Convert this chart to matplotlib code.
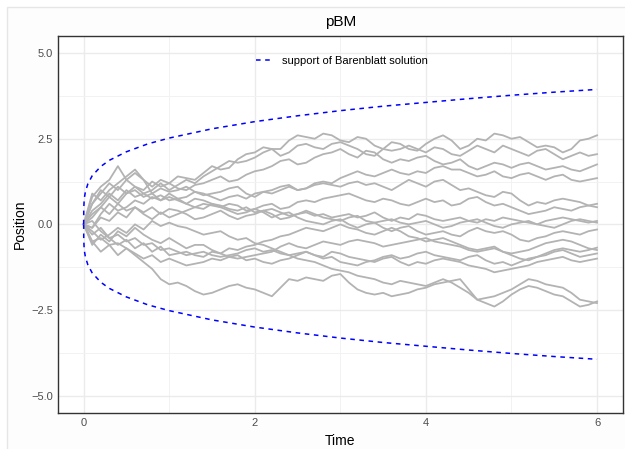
import matplotlib
matplotlib.use("Agg")
import matplotlib.pyplot as plt
from matplotlib.patches import Rectangle

plt.rcParams['font.family'] = ['Liberation Sans', 'DejaVu Sans']

# sampling times of the paths (every 0.1)
times = [0.0, 0.1, 0.2, 0.3, 0.4, 0.5, 0.6, 0.7, 0.8, 0.9,
         1.0, 1.1, 1.2, 1.3, 1.4, 1.5, 1.6, 1.7, 1.8, 1.9,
         2.0, 2.1, 2.2, 2.3, 2.4, 2.5, 2.6, 2.7, 2.8, 2.9,
         3.0, 3.1, 3.2, 3.3, 3.4, 3.5, 3.6, 3.7, 3.8, 3.9,
         4.0, 4.1, 4.2, 4.3, 4.4, 4.5, 4.6, 4.7, 4.8, 4.9,
         5.0, 5.1, 5.2, 5.3, 5.4, 5.5, 5.6, 5.7, 5.8, 5.9,
         6.0]

# positions of each path
p1 = [0, 0.6, 0.9, 1.2, 1.0, 1.3, 1.1, 1.0, 1.25, 1.1,
      1.2, 1.4, 1.35, 1.3, 1.5, 1.7, 1.6, 1.65, 1.9, 2.05,
      2.1, 2.25, 2.2, 2.2, 2.45, 2.6, 2.55, 2.5, 2.65, 2.6,
      2.45, 2.4, 2.55, 2.5, 2.3, 2.2, 2.4, 2.35, 2.2, 2.15,
      2.35, 2.5, 2.6, 2.45, 2.2, 2.3, 2.5, 2.45, 2.65, 2.6,
      2.5, 2.55, 2.4, 2.25, 2.3, 2.25, 2.1, 2.2, 2.45, 2.5,
      2.6]
p2 = [0, 0.3, 0.5, 0.8, 0.6, 0.9, 1.1, 0.9, 1.0, 1.2,
      1.0, 1.15, 1.3, 1.2, 1.4, 1.55, 1.7, 1.85, 1.8, 1.85,
      1.95, 2.1, 2.2, 2.0, 2.1, 2.3, 2.35, 2.25, 2.2, 2.35,
      2.4, 2.3, 2.2, 2.05, 2.0, 2.2, 2.15, 2.2, 2.3, 2.2,
      2.1, 2.25, 2.2, 2.05, 2.0, 2.15, 2.3, 2.2, 2.1, 2.3,
      2.2, 2.1, 2.0, 2.15, 2.2, 2.05, 1.9, 2.0, 2.1, 2.0,
      2.05]
p3 = [0, 0.8, 1.1, 1.3, 1.7, 1.3, 1.5, 1.3, 1.1, 1.3,
      1.2, 1.05, 1.0, 1.15, 1.2, 1.3, 1.4, 1.25, 1.3, 1.45,
      1.55, 1.6, 1.7, 1.85, 1.9, 1.75, 1.8, 1.95, 2.05, 2.1,
      2.2, 2.05, 1.95, 2.15, 2.1, 1.9, 1.8, 1.9, 1.85, 1.95,
      2.0, 1.85, 1.75, 1.8, 1.9, 1.7, 1.6, 1.7, 1.8, 1.75,
      1.65, 1.75, 1.8, 1.7, 1.6, 1.65, 1.7, 1.6, 1.55, 1.65,
      1.75]
p4 = [0, -0.1, 0.3, 0.6, 0.4, 0.5, 0.7, 0.6, 0.8, 0.7,
      0.9, 0.75, 0.8, 0.95, 0.9, 0.8, 0.7, 0.8, 0.85, 0.75,
      0.9, 0.95, 1.0, 1.1, 1.15, 1.0, 1.05, 1.2, 1.25, 1.2,
      1.35, 1.45, 1.55, 1.45, 1.4, 1.5, 1.6, 1.5, 1.45, 1.55,
      1.5, 1.65, 1.7, 1.6, 1.6, 1.5, 1.4, 1.45, 1.55, 1.4,
      1.35, 1.45, 1.5, 1.4, 1.3, 1.4, 1.45, 1.3, 1.25, 1.3,
      1.35]
p5 = [0, 0.9, 0.7, 1.0, 1.2, 1.4, 1.6, 1.3, 0.9, 1.05,
      0.95, 1.0, 1.1, 0.95, 0.85, 0.9, 0.95, 1.05, 1.1, 0.9,
      0.8, 0.95, 0.9, 1.0, 1.1, 1.0, 1.05, 1.15, 1.2, 1.15,
      1.1, 1.2, 1.25, 1.15, 1.2, 1.1, 1.0, 1.15, 1.3, 1.2,
      1.1, 1.25, 1.3, 1.15, 1.0, 1.05, 0.95, 0.85, 0.8, 0.95,
      0.9, 0.7, 0.55, 0.65, 0.6, 0.7, 0.75, 0.7, 0.65, 0.55,
      0.6]
p6 = [0, 0.6, 1.0, 0.8, 1.1, 0.9, 1.0, 0.8, 0.9, 0.7,
      0.8, 0.7, 0.6, 0.75, 0.7, 0.6, 0.5, 0.6, 0.55, 0.4,
      0.45, 0.55, 0.6, 0.45, 0.5, 0.65, 0.7, 0.65, 0.75, 0.8,
      0.85, 0.9, 0.8, 0.7, 0.65, 0.75, 0.7, 0.6, 0.55, 0.65,
      0.75, 0.65, 0.7, 0.55, 0.6, 0.75, 0.8, 0.65, 0.55, 0.6,
      0.5, 0.4, 0.3, 0.35, 0.4, 0.5, 0.45, 0.4, 0.5, 0.55,
      0.5]
p7 = [0, 0.4, 0.6, 0.9, 0.7, 1.0, 0.8, 0.9, 0.75, 0.85,
      0.7, 0.75, 0.6, 0.5, 0.45, 0.6, 0.55, 0.45, 0.4, 0.5,
      0.35, 0.4, 0.3, 0.15, 0.2, 0.3, 0.35, 0.25, 0.3, 0.2,
      0.25, 0.3, 0.2, 0.25, 0.35, 0.2, 0.1, 0.2, 0.15, 0.3,
      0.25, 0.15, 0.1, 0.15, 0.2, 0.1, 0.05, 0.15, 0.1, 0.2,
      0.15, 0.1, 0.05, 0.0, 0.1, 0.15, 0.2, 0.15, 0.1, 0.05,
      0.1]
p8 = [0, 0.2, 0.5, 0.3, 0.6, 0.4, 0.5, 0.35, 0.5, 0.3,
      0.45, 0.4, 0.3, 0.15, 0.2, 0.3, 0.4, 0.25, 0.15, 0.25,
      0.3, 0.4, 0.45, 0.35, 0.25, 0.3, 0.4, 0.3, 0.2, 0.15,
      0.1, 0.2, 0.25, 0.1, 0.05, 0.1, 0.15, 0.05, 0.0, 0.05,
      0.1, 0.0, -0.1, -0.05, 0.05, 0.1, 0.15, 0.05, -0.05, -0.1,
      0.0, 0.05, 0.1, 0.0, -0.05, -0.1, 0.0, 0.1, 0.15, 0.1,
      0.05]
p9 = [0, -0.1, 0.2, 0.1, 0.35, 0.2, 0.5, 0.3, 0.15, 0.35,
      0.2, 0.3, 0.4, 0.5, 0.6, 0.55, 0.5, 0.4, 0.3, 0.35,
      0.45, 0.35, 0.2, 0.3, 0.35, 0.2, 0.1, 0.05, 0.0, 0.1,
      0.15, 0.0, -0.1, 0.0, 0.05, -0.1, -0.2, -0.1, -0.05, -0.2,
      -0.3, -0.25, -0.2, -0.3, -0.35, -0.2, -0.1, -0.2, -0.25, -0.2,
      -0.3, -0.45, -0.5, -0.4, -0.35, -0.25, -0.2, -0.25, -0.3, -0.2,
      -0.15]
p10 = [0, -0.6, -0.3, -0.5, -0.2, -0.35, -0.1, -0.3, -0.45, -0.55,
       -0.4, -0.55, -0.7, -0.6, -0.6, -0.75, -0.85, -0.7, -0.75, -0.65,
       -0.6, -0.5, -0.45, -0.35, -0.3, -0.2, -0.1, -0.15, -0.2, -0.1,
       0.0, -0.1, -0.15, -0.25, -0.3, -0.2, -0.1, -0.2, -0.35, -0.4,
       -0.5, -0.45, -0.4, -0.5, -0.6, -0.7, -0.75, -0.7, -0.65, -0.8,
       -0.9, -1.0, -1.05, -0.95, -0.85, -0.75, -0.7, -0.75, -0.8, -0.75,
       -0.68]
p11 = [0, -0.3, -0.1, -0.4, -0.6, -0.45, -0.7, -0.55, -0.8, -0.65,
       -0.9, -0.85, -0.8, -0.9, -0.95, -0.8, -0.85, -0.95, -1.0, -0.95,
       -0.9, -0.85, -0.8, -0.65, -0.55, -0.65, -0.7, -0.6, -0.5, -0.55,
       -0.6, -0.5, -0.45, -0.5, -0.55, -0.65, -0.6, -0.55, -0.5, -0.45,
       -0.4, -0.5, -0.55, -0.6, -0.65, -0.75, -0.8, -0.75, -0.7, -0.8,
       -0.85, -0.8, -0.75, -0.65, -0.55, -0.5, -0.45, -0.5, -0.6, -0.7,
       -0.75]
p12 = [0, -0.5, -0.8, -0.6, -0.9, -0.7, -0.85, -1.0, -0.9, -1.1,
       -1.0, -1.1, -1.2, -1.15, -1.1, -1.0, -1.05, -0.95, -0.9, -1.05,
       -1.0, -1.1, -1.15, -1.05, -1.0, -0.9, -0.8, -0.9, -0.95, -0.8,
       -0.85, -0.95, -1.0, -1.05, -1.1, -1.0, -0.95, -1.1, -1.2, -1.1,
       -1.15, -1.05, -1.0, -1.05, -1.1, -1.2, -1.25, -1.3, -1.4, -1.35,
       -1.3, -1.25, -1.2, -1.1, -1.05, -1.0, -0.95, -1.05, -1.1, -1.05,
       -1.0]
p13 = [0, -0.2, -0.45, -0.3, -0.1, -0.25, 0.0, -0.15, 0.1, -0.05,
       0.05, -0.05, -0.1, -0.2, -0.3, -0.25, -0.2, -0.35, -0.45, -0.4,
       -0.55, -0.6, -0.7, -0.8, -0.9, -0.85, -0.8, -0.9, -1.0, -0.95,
       -1.1, -1.15, -1.2, -1.1, -1.05, -0.95, -0.9, -1.0, -0.95, -0.85,
       -0.8, -0.9, -0.95, -1.0, -1.05, -0.95, -0.9, -1.05, -1.15, -1.1,
       -1.2, -1.1, -1.0, -0.95, -0.9, -0.8, -0.75, -0.85, -0.95, -0.9,
       -0.85]
p14 = [0, -0.5, -0.4, -0.6, -0.55, -0.7, -0.9, -1.1, -1.3, -1.6,
       -1.75, -1.7, -1.8, -1.95, -2.05, -2.0, -1.9, -1.8, -1.75, -1.85,
       -1.9, -2.0, -2.1, -1.85, -1.6, -1.65, -1.55, -1.6, -1.65, -1.5,
       -1.45, -1.7, -1.9, -2.0, -2.05, -2.0, -2.1, -2.05, -2.0, -1.9,
       -1.85, -1.75, -1.7, -1.65, -1.6, -1.9, -2.2, -2.3, -2.4, -2.25,
       -2.05, -1.9, -1.8, -1.85, -1.95, -2.05, -2.1, -2.25, -2.4, -2.35,
       -2.25]
p15 = [0, 0.1, -0.2, -0.4, -0.3, -0.5, -0.4, -0.6, -0.55, -0.75,
       -0.7, -0.8, -0.9, -0.85, -0.8, -0.9, -0.95, -0.9, -0.85, -0.75,
       -0.7, -0.8, -0.75, -0.85, -0.9, -1.0, -1.05, -1.1, -1.2, -1.3,
       -1.35, -1.4, -1.5, -1.55, -1.6, -1.7, -1.75, -1.65, -1.7, -1.75,
       -1.8, -1.7, -1.6, -1.7, -1.85, -2.0, -2.2, -2.15, -2.1, -2.0,
       -1.9, -1.75, -1.6, -1.65, -1.75, -1.8, -1.85, -2.0, -2.2, -2.25,
       -2.3]
paths = [p1, p2, p3, p4, p5, p6, p7, p8, p9, p10, p11, p12, p13, p14, p15]

# support of the Barenblatt solution (upper edge, lower edge is the mirror)
supp_t = [0, 0.001, 0.005, 0.01, 0.02, 0.05, 0.1, 0.2, 0.3, 0.5, 0.75, 1, 1.5, 2, 2.5,
          3, 3.5, 4, 4.5, 5, 5.5, 6]
supp_x = [0, 0.45, 0.67, 0.8, 0.95, 1.19, 1.42, 1.69, 1.87, 2.12, 2.35, 2.52, 2.79, 3.0, 3.17,
          3.32, 3.45, 3.56, 3.67, 3.77, 3.86, 3.94]

fig = plt.figure(figsize=(6.25, 4.49), dpi=100)
fig.patch.set_facecolor('white')
card = Rectangle((7 / 625, -0.1), 1.2, 1 - 7 / 449 + 0.1, transform=fig.transFigure,
                 facecolor='#fdfdfd', edgecolor='#e6e6e6', lw=1.0, zorder=-10)
fig.add_artist(card)
ax = fig.add_axes([58 / 625, 1 - 412.7 / 449, (622.7 - 58) / 625, (412.7 - 36) / 449])
ax.set_zorder(1)
ax.set_facecolor('white')

for p in paths:
    ax.plot(times, p, color='#b3b3b3', lw=1.3, zorder=2)

lower = [-v for v in supp_x]
ax.plot(supp_t, supp_x, color='blue', lw=1.1, dashes=(3, 3), zorder=3,
        label='support of Barenblatt solution')
ax.plot(supp_t, lower, color='blue', lw=1.1, dashes=(3, 3), zorder=3)

ax.set_xlim(-0.3, 6.3)
ax.set_ylim(-5.5, 5.5)
ax.set_xticks([0, 2, 4, 6])
ax.set_xticks([1, 3, 5], minor=True)
ax.set_yticks([-5, -2.5, 0, 2.5, 5])
ax.set_yticks([-3.75, -1.25, 1.25, 3.75], minor=True)
ax.set_yticklabels(['\u22125.0', '\u22122.5', '0.0', '2.5', '5.0'])
ax.grid(which='major', color='#ebebeb', lw=1.0, zorder=0)
ax.grid(which='minor', color='#f2f2f2', lw=0.7, zorder=0)
ax.set_axisbelow(True)
ax.tick_params(which='both', length=0, labelsize=8, labelcolor='#4d4d4d', pad=3.5)
for s in ax.spines.values():
    s.set_color('#333333')
    s.set_linewidth(1.0)

ax.set_title('pBM', fontsize=11, pad=7)
ax.set_xlabel('Time', fontsize=10, labelpad=4.5)
ax.set_ylabel('Position', fontsize=10, labelpad=3)
ax.legend(loc='center left', bbox_to_anchor=(256 / 625, 1 - 61 / 449),
          bbox_transform=fig.transFigure, frameon=False, fontsize=8,
          borderpad=0, borderaxespad=0, handlelength=1.45, handletextpad=0.9)

fig.savefig('out.png', dpi=100)
